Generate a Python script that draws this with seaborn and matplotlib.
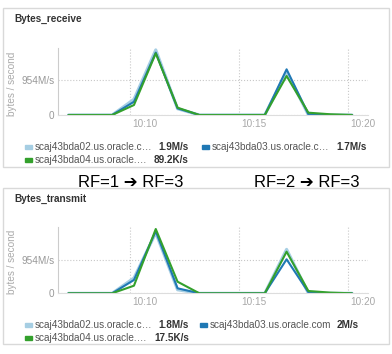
import pandas as pd
import matplotlib.pyplot as plt
import matplotlib.dates as mdates
import matplotlib.patches as mpatches
from matplotlib.transforms import ScaledTranslation
import seaborn as sns

# sample times (one per minute)
times = ["10:07:12", "10:08:12", "10:09:12", "10:10:12", "10:11:12", "10:12:12", "10:13:12",
         "10:14:12", "10:15:12", "10:16:12", "10:17:12", "10:18:12", "10:19:12", "10:20:12"]
hosts = ["scaj43bda02.us.oracle.com", "scaj43bda03.us.oracle.com", "scaj43bda04.us.oracle.com"]

# bytes / second, in M/s
recv_bda02 = [0, 0, 0, 430, 1775, 170, 0, 0, 0, 0, 1180, 0, 0, 0]
recv_bda03 = [0, 0, 0, 360, 1700, 180, 0, 0, 0, 0, 1245, 20, 0, 0]
recv_bda04 = [0, 0, 0, 272, 1680, 200, 0, 0, 0, 0, 1063, 63, 20, 0]

xmit_bda02 = [0, 0, 0, 440, 1730, 100, 0, 0, 0, 0, 1260, 0, 0, 0]
xmit_bda03 = [0, 0, 0, 381, 1780, 143, 0, 0, 0, 0, 974, 30, 0, 0]
xmit_bda04 = [0, 0, 0, 218, 1842, 332, 0, 0, 0, 0, 1192, 66, 20, 0]

recv_names = ["scaj43bda02.us.oracle.c\u2026", "scaj43bda03.us.oracle.c\u2026", "scaj43bda04.us.oracle.\u2026"]
recv_values = ["1.9M/s", "1.7M/s", "89.2K/s"]
xmit_names = ["scaj43bda02.us.oracle.c\u2026", "scaj43bda03.us.oracle.com", "scaj43bda04.us.oracle.\u2026"]
xmit_values = ["1.8M/s", "2M/s", "17.5K/s"]

rf_notes = ["RF=1 \u2794 RF=3", "RF=2 \u2794 RF=3"]

sns.set_style("white")
plt.rcParams['font.family'] = ['Liberation Sans', 'DejaVu Sans']

W, H = 392, 354
palette = [sns.color_palette("Paired")[0], sns.color_palette("Paired")[1], sns.color_palette("Paired")[3]]


def fx(x):
    return x / W


def fy(y):
    return 1 - y / H


def to_df(series):
    rows = []
    for host, vals in zip(hosts, series):
        for t, v in zip(times, vals):
            rows.append({"time": pd.to_datetime("2016-05-10 " + t), "rate": v, "host": host})
    return pd.DataFrame(rows)


fig = plt.figure(figsize=(W / 100, H / 100), dpi=100)


def draw_panel(box, title, ax_box, series, ytop, names, values, name_x, value_x, rows_y):
    # panel frame
    x0, y0, x1, y1 = box
    fig.patches.append(mpatches.Rectangle((fx(x0), fy(y1)), fx(x1 - x0), (y1 - y0) / H,
                                          transform=fig.transFigure, fill=False,
                                          edgecolor='#d9d9d9', linewidth=1))
    fig.text(fx(x0 + 11), fy(y0 + 11), title, fontsize=7.2, fontweight='bold',
             color='#333333', va='center', ha='left')

    l, t, r, b = ax_box
    ax = fig.add_axes([fx(l), fy(b), fx(r - l), (b - t) / H])
    df = to_df(series)
    sns.lineplot(data=df, x="time", y="rate", hue="host", hue_order=hosts,
                 palette=palette, ax=ax, legend=False)
    for line, lw in zip(ax.lines, [2.2, 1.5, 1.5]):
        line.set_linewidth(lw)

    ax.set_xlim(pd.to_datetime("2016-05-10 10:06:43"), pd.to_datetime("2016-05-10 10:20:56"))
    ax.set_ylim(0, ytop)
    ax.set_yticks([0, 954])
    ax.set_yticklabels(["0", "954M/s"])
    ax.xaxis.set_major_locator(mdates.MinuteLocator(byminute=[10, 15, 20]))
    ax.xaxis.set_major_formatter(mdates.DateFormatter("%H:%M"))
    ax.set_xlabel("")
    ax.set_ylabel("")
    ax.grid(True, linestyle=':', color='#c8c8c8', linewidth=0.8)
    ax.tick_params(axis='x', length=9.5, width=0.8, color='#e6e6e6', pad=-6.6,
                   labelsize=7.2, labelcolor='#a8a8a8')
    ax.tick_params(axis='y', length=0, pad=2.5, labelsize=7.2, labelcolor='#999999')
    for lab in ax.get_xticklabels():
        lab.set_horizontalalignment('left')
        lab.set_transform(lab.get_transform() + ScaledTranslation(3 / 100, 0, fig.dpi_scale_trans))
    for s in ['top', 'right']:
        ax.spines[s].set_visible(False)
    ax.spines['left'].set_color('#cccccc')
    ax.spines['left'].set_linewidth(0.8)
    ax.spines['bottom'].set_color('#dddddd')
    ax.spines['bottom'].set_linewidth(0.8)

    fig.text(fx(12), fy((t + b) / 2 + 2), "bytes / second", rotation=90, fontsize=7.2,
             color='#aaaaaa', ha='center', va='center')

    # legend
    slots = [(0, 0), (1, 0), (0, 1)]
    for i, (col, row) in enumerate(slots):
        yy = rows_y[row]
        sx = name_x[col] - 10
        fig.patches.append(mpatches.Rectangle((fx(sx), fy(yy + 2)), fx(7), 4 / H,
                                              transform=fig.transFigure, color=palette[i]))
        fig.text(fx(name_x[col]), fy(yy), names[i], fontsize=7.2, color='#555555',
                 ha='left', va='center')
        fig.text(fx(value_x[i]), fy(yy), values[i], fontsize=7.2, fontweight='bold',
                 color='#333333', ha='right', va='center')
    return ax


draw_panel((3, 8, 389, 167), "Bytes_receive", (58, 48, 368, 115),
           [recv_bda02, recv_bda03, recv_bda04], 1826,
           recv_names, recv_values, [35, 212], [189, 367, 189], [147, 160])

draw_panel((3, 188, 389, 344), "Bytes_transmit", (58, 227.3, 368, 293.3),
           [xmit_bda02, xmit_bda03, xmit_bda04], 1891,
           xmit_names, xmit_values, [35, 210], [189, 359, 189], [325, 338])

fig.text(fx(131), fy(183), rf_notes[0], fontsize=12, color='black', ha='center', va='center')
fig.text(fx(307), fy(183), rf_notes[1], fontsize=12, color='black', ha='center', va='center')

fig.savefig("out.png", dpi=100)
